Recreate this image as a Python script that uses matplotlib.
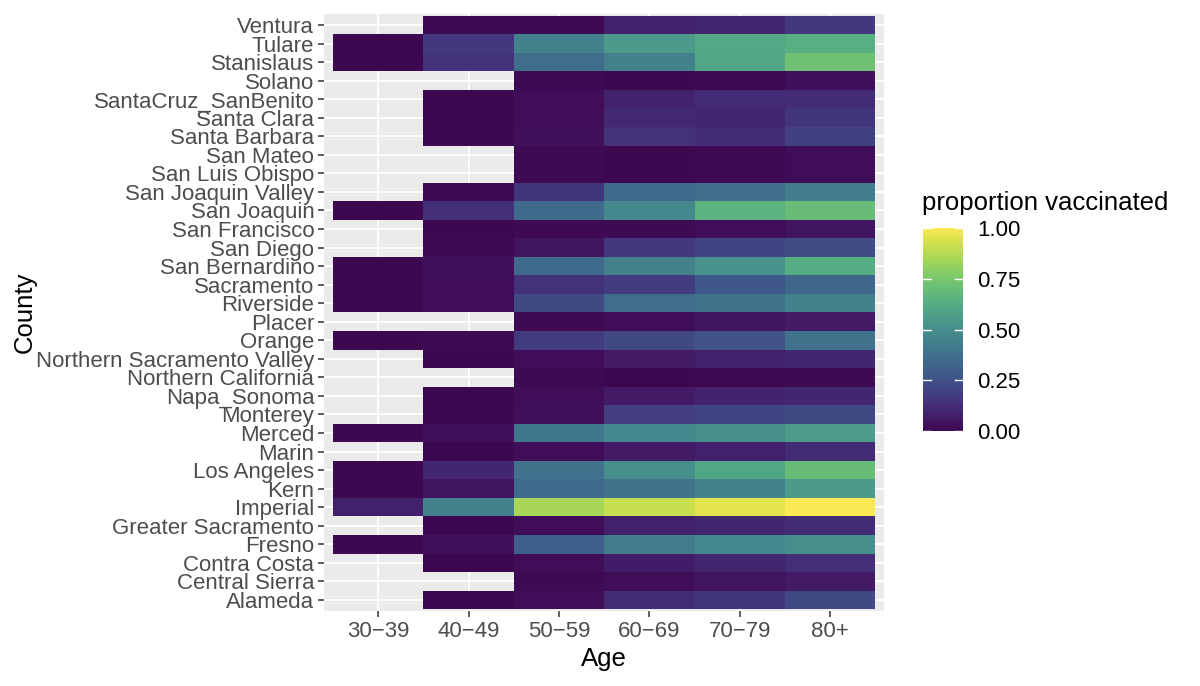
import numpy as np
import matplotlib
matplotlib.use("Agg")
import matplotlib.pyplot as plt
from matplotlib.colors import ListedColormap

plt.rcParams['font.family'] = ['Liberation Sans', 'DejaVu Sans']

nan = np.nan

ages = ["30\u221239", "40\u221249", "50\u221259", "60\u221269", "70\u221279", "80+"]

# counties listed top to bottom as in the chart
counties = [
    "Ventura", "Tulare", "Stanislaus", "Solano", "SantaCruz_SanBenito",
    "Santa Clara", "Santa Barbara", "San Mateo", "San Luis Obispo",
    "San Joaquin Valley", "San Joaquin", "San Francisco", "San Diego",
    "San Bernardino", "Sacramento", "Riverside", "Placer", "Orange",
    "Northern Sacramento Valley", "Northern California", "Napa_Sonoma",
    "Monterey", "Merced", "Marin", "Los Angeles", "Kern", "Imperial",
    "Greater Sacramento", "Fresno", "Contra Costa", "Central Sierra", "Alameda",
]

# proportion vaccinated per age group (30-39 ... 80+), NaN = no data
vacc = [
    [nan, 0.01, 0.01, 0.08, 0.10, 0.16],
    [0.00, 0.16, 0.45, 0.55, 0.61, 0.64],
    [0.00, 0.14, 0.36, 0.44, 0.60, 0.72],
    [nan, nan, 0.01, 0.00, 0.01, 0.03],
    [nan, 0.00, 0.02, 0.09, 0.12, 0.12],
    [nan, 0.00, 0.02, 0.11, 0.10, 0.15],
    [nan, 0.00, 0.03, 0.14, 0.12, 0.19],
    [nan, nan, 0.01, 0.00, 0.01, 0.02],
    [nan, nan, 0.01, 0.00, 0.01, 0.02],
    [nan, 0.01, 0.15, 0.35, 0.37, 0.43],
    [0.00, 0.13, 0.35, 0.47, 0.66, 0.70],
    [nan, 0.00, 0.01, 0.01, 0.02, 0.04],
    [nan, 0.01, 0.05, 0.16, 0.20, 0.23],
    [0.00, 0.03, 0.35, 0.45, 0.52, 0.63],
    [0.00, 0.02, 0.14, 0.17, 0.27, 0.33],
    [0.00, 0.02, 0.22, 0.36, 0.38, 0.45],
    [nan, nan, 0.01, 0.02, 0.04, 0.06],
    [0.00, 0.01, 0.17, 0.22, 0.25, 0.38],
    [nan, 0.00, 0.02, 0.06, 0.08, 0.10],
    [nan, nan, 0.01, 0.00, 0.01, 0.01],
    [nan, 0.00, 0.02, 0.06, 0.09, 0.10],
    [nan, 0.00, 0.03, 0.18, 0.20, 0.22],
    [0.00, 0.03, 0.40, 0.47, 0.50, 0.56],
    [nan, 0.00, 0.02, 0.06, 0.08, 0.12],
    [0.00, 0.10, 0.38, 0.50, 0.60, 0.70],
    [0.00, 0.04, 0.35, 0.39, 0.45, 0.55],
    [0.08, 0.45, 0.85, 0.91, 0.96, 1.00],
    [nan, 0.00, 0.02, 0.08, 0.10, 0.12],
    [0.00, 0.03, 0.30, 0.42, 0.47, 0.50],
    [nan, 0.00, 0.02, 0.07, 0.10, 0.13],
    [nan, nan, 0.01, 0.02, 0.04, 0.06],
    [nan, 0.00, 0.02, 0.12, 0.15, 0.22],
]


def soften(rgb):
    # the reference screenshot shows viridis slightly washed out
    # (sRGB values re-expressed in the Display P3 gamut)
    lin = np.where(rgb <= 0.04045, rgb / 12.92, ((rgb + 0.055) / 1.055) ** 2.4)
    m = np.array([[0.8225, 0.1774, 0.0000],
                  [0.0332, 0.9669, 0.0000],
                  [0.0171, 0.0724, 0.9108]])
    lin = np.clip(lin @ m.T, 0, 1)
    out = np.where(lin <= 0.0031308, lin * 12.92, 1.055 * lin ** (1 / 2.4) - 0.055)
    return np.clip(out, 0, 1)


base = plt.get_cmap("viridis")(np.linspace(0, 1, 256))[:, :3]
cmap = ListedColormap(soften(base))
cmap.set_bad((0, 0, 0, 0))

n_c = len(counties)
n_a = len(ages)
# bottom row first for plotting
grid = np.ma.masked_invalid(np.array(vacc[::-1]))

fig = plt.figure(figsize=(12, 6.86), dpi=100)
ax = fig.add_axes([0.27, 0.1093, 0.467, 0.8704])
ax.set_facecolor("#EBEBEB")

xe = np.arange(n_a + 1) - 0.5
ye = np.arange(n_c + 1) - 0.5
mesh = ax.pcolormesh(xe, ye, grid, cmap=cmap, vmin=0, vmax=1, zorder=2)

ax.set_xlim(-0.6, n_a - 0.4)
ax.set_ylim(-0.6, n_c - 0.4)
ax.set_xticks(range(n_a))
ax.set_xticklabels(ages)
ax.set_yticks(range(n_c))
ax.set_yticklabels(counties[::-1])
ax.grid(True, color="white", linewidth=1.3, zorder=1)
ax.set_axisbelow(True)
for s in ax.spines.values():
    s.set_visible(False)
ax.tick_params(axis="both", colors="#333333", length=4, width=1.1,
               labelsize=16, labelcolor="#4D4D4D", pad=3)

ax.set_xlabel("Age", fontsize=18.5, labelpad=4)
ax.set_ylabel("County", fontsize=18.5)
ax.yaxis.set_label_coords(-0.513, 0.5)

# colour bar legend
cax = fig.add_axes([923 / 1200, 1 - 431 / 686, 40 / 1200, 203 / 686])
cb = fig.colorbar(mesh, cax=cax)
cb.outline.set_visible(False)
cb.set_ticks([0, 0.25, 0.5, 0.75, 1.0])
cb.set_ticklabels(["0.00", "0.25", "0.50", "0.75", "1.00"])
cax.tick_params(length=0, labelsize=16, pad=10)
for t in [0, 0.25, 0.5, 0.75, 1.0]:
    cax.plot([0, 0.2], [t, t], color="white", lw=1, transform=cax.get_yaxis_transform())
    cax.plot([0.8, 1.0], [t, t], color="white", lw=1, transform=cax.get_yaxis_transform())
fig.text(922 / 1200, 1 - 203 / 686, "proportion vaccinated", fontsize=18.5,
         va="center", ha="left")

fig.savefig("out.png", dpi=100, facecolor="white")
